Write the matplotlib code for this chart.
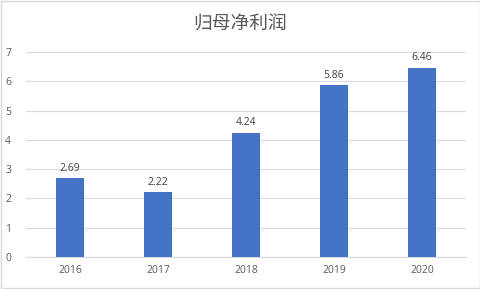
import matplotlib.pyplot as plt
from matplotlib.patches import Rectangle

plt.rcParams['font.family'] = ['Noto Sans CJK SC', 'DejaVu Sans']

years = ['2016', '2017', '2018', '2019', '2020']
profit = [2.69, 2.22, 4.24, 5.86, 6.46]
yticks = [0, 1, 2, 3, 4, 5, 6, 7]

fig = plt.figure(figsize=(4.81, 2.89), dpi=100)
ax = fig.add_axes([0.054, 0.111, 0.915, 0.709])

x = range(len(years))
bars = ax.bar(x, profit, width=0.32, color='#4472C4', zorder=3)

# value labels above the bars
for b, v in zip(bars, profit):
    ax.text(b.get_x() + b.get_width() / 2, v + 0.15, f'{v:.2f}',
            ha='center', va='bottom', fontsize=7.5, color='#404040', family='Open Sans')

ax.set_xlim(-0.5, len(years) - 0.5)
ax.set_ylim(0, 7)
ax.set_yticks(yticks)
ax.set_xticks(list(x))
ax.set_xticklabels(years)
ax.grid(axis='y', color='#d9d9d9', linewidth=0.8, zorder=0)
for s in ['top', 'right', 'left']:
    ax.spines[s].set_visible(False)
ax.spines['bottom'].set_color('#d9d9d9')
ax.tick_params(length=0, labelsize=7.5, labelcolor='#595959', pad=6)
for lbl in ax.get_xticklabels() + ax.get_yticklabels():
    lbl.set_family('Open Sans')
ax.tick_params(axis='y', pad=15)
for lbl in ax.get_yticklabels():
    lbl.set_horizontalalignment('left')

fig.text(0.5, 0.915, '归母净利润', ha='center', va='center', fontsize=13.5, color='#595959')

fig.patches.append(Rectangle((0.002, 0.003), 0.996, 0.994, transform=fig.transFigure,
                             fill=False, edgecolor='#d9d9d9', linewidth=1))

fig.savefig('out.png', dpi=100)
